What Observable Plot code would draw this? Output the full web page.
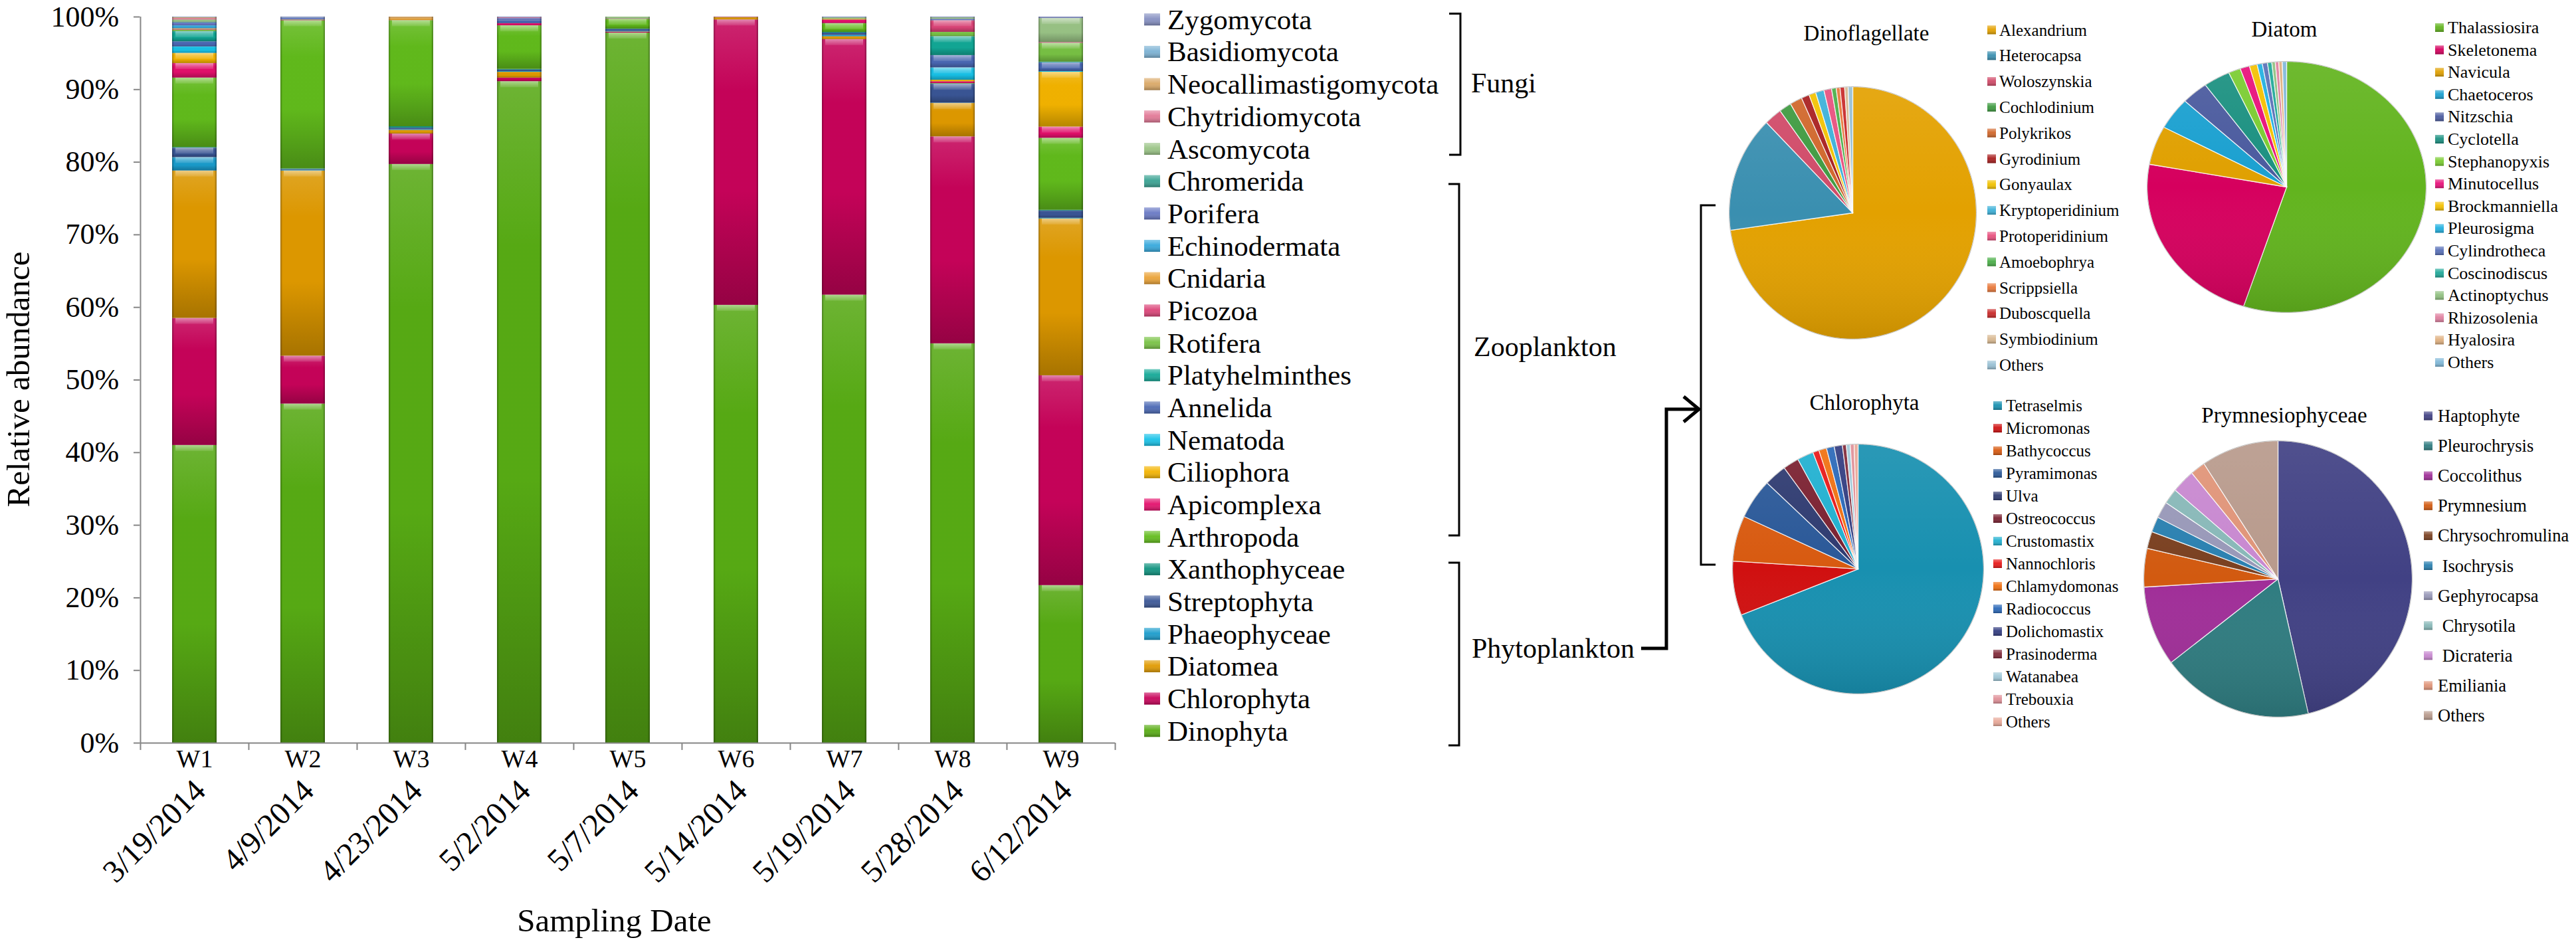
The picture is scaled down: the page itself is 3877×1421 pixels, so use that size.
<!DOCTYPE html>
<html><head><meta charset="utf-8">
<script src="https://cdn.jsdelivr.net/npm/d3@7"></script>
<script src="https://cdn.jsdelivr.net/npm/@observablehq/plot@0.6"></script>
<style>
html,body{margin:0;padding:0;background:#fff;}
#root{position:relative;width:3877px;height:1421px;overflow:hidden;background:#fff;}
#root svg{position:absolute;}
#root svg, #root svg text{font-family:'Liberation Serif','Times New Roman',Times,serif !important;}
</style></head>
<body><div id="root"></div>
<script>
// ---------------- DATA ----------------
const weeks = ["W1","W2","W3","W4","W5","W6","W7","W8","W9"];
const dates = ["3/19/2014","4/9/2014","4/23/2014","5/2/2014","5/7/2014","5/14/2014","5/19/2014","5/28/2014","6/12/2014"];
const yTicks = [0,10,20,30,40,50,60,70,80,90,100];
// stacking order, bottom to top
const taxa = ["Dinophyta","Chlorophyta","Diatomea","Phaeophyceae","Streptophyta","Xanthophyceae","Arthropoda","Apicomplexa","Ciliophora","Nematoda","Annelida","Platyhelminthes","Rotifera","Picozoa","Cnidaria","Echinodermata","Porifera","Chromerida","Ascomycota","Chytridiomycota","Neocallimastigomycota","Basidiomycota","Zygomycota"];
const taxaColors = ["#58ac14","#c8035a","#e09a00","#1a9ccc","#3a5696","#0e927e","#62bc1c","#e4106c","#f4b400","#18c2e8","#4a68b4","#12a896","#78c244","#dc4478","#eaa236","#36a8dc","#6878c4","#38a292","#9ac486","#e27896","#daa866","#7cb2d4","#8690c2"];
const w1 = [41.0,17.5,20.3,1.85,1.3,0.1,9.55,2.0,1.4,0.9,0.7,1.4,0.2,0.1,0.1,0.4,0.4,0.1,0.3,0.2,0.1,0.05,0.05];
const w2 = [46.7,6.6,25.5,0.1,0.1,0.1,20.4,0.05,0.05,0,0.1,0,0,0,0,0,0.15,0,0,0,0,0.05,0.1];
const w3 = [79.7,4.2,0.5,0.1,0.2,0.2,14.6,0,0,0,0,0,0,0,0.3,0,0,0,0,0,0.2,0,0];
const w4 = [91.1,0.5,0.8,0.1,0.2,0.1,6.0,0.3,0,0,0.4,0,0,0,0,0,0.3,0,0,0.1,0,0,0.1];
const w5 = [97.8,0.1,0.05,0.1,0.25,0.05,1.35,0.05,0,0,0,0,0,0,0,0,0,0,0.25,0,0,0,0];
const w6 = [60.3,39.3,0.3,0,0,0,0.05,0.05,0,0,0,0,0,0,0,0,0,0,0,0,0,0,0];
const w7 = [61.7,35.2,0.4,0.2,0.3,0.1,1.2,0.5,0.1,0,0,0,0,0,0,0,0,0,0.2,0,0,0,0.1];
const w8 = [55.0,28.5,4.6,0.05,2.6,0.05,0.05,0.25,0.2,1.7,1.7,2.6,0.6,1.6,0,0,0.2,0,0.2,0,0,0,0.1];
const w9 = [21.7,28.9,21.6,0.1,1.0,0.1,9.9,1.55,7.55,0.1,1.2,0.1,2.6,0.1,0,0,0,0,3.3,0,0,0,0.2];
const weekValues = [w1,w2,w3,w4,w5,w6,w7,w8,w9];

const dinoNames = ["Alexandrium","Heterocapsa","Woloszynskia","Cochlodinium","Polykrikos","Gyrodinium","Gonyaulax","Kryptoperidinium","Protoperidinium","Amoebophrya","Scrippsiella","Duboscquella","Symbiodinium","Others"];
const dinoValues = [72.8,14.9,2.3,1.6,1.6,1.05,0.9,1.1,1.0,0.6,0.5,0.6,0.45,0.6];
const dinoColors = ["#e3a100","#3a8fb0","#d04a68","#3e9a40","#d0662a","#a81e1e","#f2c200","#3cb0d8","#e8507e","#4aae48","#e8783a","#c82828","#d8b890","#98c0d4"];

const diatomNames = ["Thalassiosira","Skeletonema","Navicula","Chaetoceros","Nitzschia","Cyclotella","Stephanopyxis","Minutocellus","Brockmanniella","Pleurosigma","Cylindrotheca","Coscinodiscus","Actinoptychus","Rhizosolenia","Hyalosira","Others"];
const diatomValues = [55.0,22.9,5.0,4.1,3.1,3.1,1.4,1.1,0.9,0.6,0.6,0.5,0.4,0.4,0.4,0.5];
const diatomColors = ["#62b41e","#d6005e","#e0a000","#1aa0d0","#4a5a9e","#1a9080","#7acc30","#e8107a","#f4c000","#20b0e0","#5870b8","#20a898","#90c080","#e080a0","#e0b080","#80b8d8"];

const chloroNames = ["Tetraselmis","Micromonas","Bathycoccus","Pyramimonas","Ulva","Ostreococcus","Crustomastix","Nannochloris","Chlamydomonas","Radiococcus","Dolichomastix","Prasinoderma","Watanabea","Trebouxia","Others"];
const chloroValues = [69.0,7.0,5.9,5.2,2.9,2.05,2.1,0.8,1.0,1.0,1.05,0.5,0.5,0.5,0.5];
const chloroColors = ["#1890b0","#d01010","#d85a10","#2a5898","#2e3a70","#7a2030","#20b0d0","#e81818","#f07010","#2a68b8","#323c80","#802838","#a0c8d8","#e09098","#e8a898"];

const prymNames = ["Haptophyte","Pleurochrysis","Coccolithus","Prymnesium","Chrysochromulina"," Isochrysis","Gephyrocapsa"," Chrysotila"," Dicrateria","Emiliania","Others"];
const prymValues = [46.4,18.3,9.4,4.5,2.0,1.8,1.95,1.8,2.8,1.8,9.3];
const prymColors = ["#414184","#2f7c80","#a02e98","#d25a10","#7a4020","#2a80b0","#9898b8","#88b8b8","#c888d0","#e09478","#b89a8c"];

// ---------------- LAYOUT ----------------
const FONT = "'Liberation Serif','Times New Roman',Times,serif";
const AX = "#868686";
const root = document.getElementById("root");

const ov = d3.select(root).append("svg")
  .attr("width", 3877).attr("height", 1421)
  .style("left", "0px").style("top", "0px")
  .attr("font-family", FONT).style("font-family", FONT);
ov.append("defs").html(`
<linearGradient id="bvV" x1="0" y1="0" x2="0" y2="1">
 <stop offset="0" stop-color="#fff" stop-opacity="0.14"/>
 <stop offset="0.25" stop-color="#fff" stop-opacity="0"/>
 <stop offset="0.6" stop-color="#000" stop-opacity="0"/>
 <stop offset="1" stop-color="#000" stop-opacity="0.24"/>
</linearGradient>
<linearGradient id="bvH" x1="0" y1="0" x2="1" y2="0">
 <stop offset="0" stop-color="#000" stop-opacity="0.30"/>
 <stop offset="0.05" stop-color="#000" stop-opacity="0.02"/>
 <stop offset="0.95" stop-color="#000" stop-opacity="0.02"/>
 <stop offset="1" stop-color="#000" stop-opacity="0.34"/>
</linearGradient>
<linearGradient id="bvT" x1="0" y1="0" x2="0" y2="1">
 <stop offset="0" stop-color="#fff" stop-opacity="0.45"/>
 <stop offset="1" stop-color="#fff" stop-opacity="0.10"/>
</linearGradient>
<linearGradient id="pieShade" x1="0" y1="0" x2="0" y2="1">
 <stop offset="0" stop-color="#fff" stop-opacity="0.08"/>
 <stop offset="0.5" stop-color="#fff" stop-opacity="0"/>
 <stop offset="1" stop-color="#000" stop-opacity="0.12"/>
</linearGradient>
<linearGradient id="swV" x1="0" y1="0" x2="0" y2="1">
 <stop offset="0" stop-color="#fff" stop-opacity="0.4"/>
 <stop offset="0.45" stop-color="#fff" stop-opacity="0.05"/>
 <stop offset="1" stop-color="#000" stop-opacity="0.28"/>
</linearGradient>`);

// ---------------- BAR CHART ----------------
const rows = [];
weeks.forEach((w, wi) => {
  let acc = 0;
  weekValues[wi].forEach((v, ti) => {
    if (v > 0) rows.push({week: w, taxon: taxa[ti], value: v, y1: acc, y2: acc + v});
    acc += v;
  });
});
const W = 1700, H = 1421, ML = 210.5, MR = 22, MT = 25, MB = 303;
const step = (W - ML - MR) / weeks.length;

const bar = Plot.plot({
  width: W, height: H, marginLeft: ML, marginRight: MR, marginTop: MT, marginBottom: MB,
  style: {fontFamily: FONT, background: "transparent", overflow: "visible", color: "#000"},
  x: {domain: weeks, paddingInner: 0.59, paddingOuter: 0.295},
  y: {domain: [0, 100]},
  color: {domain: taxa, range: taxaColors},
  marks: [
    Plot.barY(rows, {x: "week", y1: "y1", y2: "y2", fill: "taxon"}),
    Plot.barY(rows, {x: "week", y1: "y1", y2: "y2", fill: "url(#bvV)"}),
    Plot.barY(rows, {x: "week", y1: "y1", y2: "y2", fill: "url(#bvH)"}),
    Plot.barY(rows.filter(d => d.value >= 1.2), {x: "week", y1: "y2", y2: "y2", insetBottom: -9, insetLeft: 5, insetRight: 5, fill: "url(#bvT)"}),
    Plot.ruleY([0], {stroke: AX, strokeWidth: 2}),
    Plot.ruleX([weeks[0]], {dx: -step / 2, y1: 0, y2: 100, stroke: AX, strokeWidth: 2}),
    Plot.ruleX(weeks, {dx: -step / 2, y1: 0, y2: -1, stroke: AX, strokeWidth: 2}),
    Plot.ruleX([weeks[weeks.length - 1]], {dx: step / 2, y1: 0, y2: -1, stroke: AX, strokeWidth: 2}),
    Plot.axisY(yTicks, {tickSize: 9.5, tickPadding: 22.4, fontSize: 44, fontFamily: FONT, tickFormat: d => d + "%", stroke: AX, strokeWidth: 2, label: null, fill: "#000"}),
    Plot.axisX(weeks, {tickSize: 0, tickPadding: 9.5, fontSize: 38, fontFamily: FONT, label: null, fill: "#000"}),
    Plot.text(weeks, {x: d => d, frameAnchor: "bottom", text: (d, i) => dates[i], rotate: -45, textAnchor: "end", lineAnchor: "middle", dx: 8, dy: 64, fontSize: 48, fontFamily: FONT, fill: "#000"})
  ]
});
bar.style.left = "0px"; bar.style.top = "0px";
bar.setAttribute("font-family", FONT);
d3.select(bar).selectAll("g, text").attr("font-family", FONT).style("font-family", FONT);
d3.select(bar).selectAll("text").attr("font-variant", "normal").style("font-variant", "normal");
root.insertBefore(bar, ov.node());

// axis titles
ov.append("text").attr("transform", "translate(27,571) rotate(-90)")
  .attr("text-anchor", "middle").attr("dominant-baseline", "central")
  .attr("font-size", 49).text("Relative abundance");
ov.append("text").attr("x", 924.5).attr("y", 1385)
  .attr("text-anchor", "middle").attr("dominant-baseline", "central")
  .attr("font-size", 49).text("Sampling Date");

// bar legend (top = last taxon)
const legendTaxa = taxa.slice().reverse();
const legendColors = taxaColors.slice().reverse();
const lg = ov.append("g");
legendTaxa.forEach((t, r) => {
  const cy = 29.3 + r * 48.68;
  lg.append("rect").attr("x", 1722).attr("y", cy - 9).attr("width", 24).attr("height", 18).attr("fill", legendColors[r]);
  lg.append("rect").attr("x", 1722).attr("y", cy - 9).attr("width", 24).attr("height", 18).attr("fill", "url(#swV)");
  lg.append("text").attr("x", 1757).attr("y", cy).attr("dominant-baseline", "central").attr("font-size", 43).text(t);
});

// group brackets and labels
const br = ov.append("g").attr("fill", "none").attr("stroke", "#000");
br.append("path").attr("d", "M2181,20.5H2198V233H2181").attr("stroke-width", 3);
br.append("path").attr("d", "M2180,277H2196V806H2180").attr("stroke-width", 3);
br.append("path").attr("d", "M2180,847H2196V1122H2180").attr("stroke-width", 3);
br.append("path").attr("d", "M2470,976H2508V616H2555").attr("stroke-width", 5).attr("stroke-linejoin", "miter");
br.append("path").attr("d", "M2534,597L2557,616L2534,635").attr("stroke-width", 5).attr("stroke-linejoin", "miter");
br.append("path").attr("d", "M2582,309H2560V850H2582").attr("stroke-width", 3);
[["Fungi", 2214, 125], ["Zooplankton", 2218, 522], ["Phytoplankton", 2215, 976]].forEach(([t, x, y]) => {
  ov.append("text").attr("x", x).attr("y", y).attr("dominant-baseline", "central").attr("font-size", 42).text(t);
});

// ---------------- PIES ----------------
function drawPie(s) {
  const items = s.names.map((n, i) => ({n, v: s.values[i], c: s.colors[i]}));
  const arcs = d3.pie().sort(null).value(d => d.v)(items);
  const pts = [];
  arcs.forEach((a, i) => {
    pts.push({k: i, x: 0, y: 0, c: a.data.c});
    const n = Math.max(2, Math.ceil((a.endAngle - a.startAngle) / (Math.PI / 360)));
    for (let j = 0; j <= n; j++) {
      const t = a.startAngle + (a.endAngle - a.startAngle) * j / n;
      pts.push({k: i, x: Math.sin(t), y: Math.cos(t), c: a.data.c});
    }
  });
  const rim = pts.filter(d => !(d.x === 0 && d.y === 0));
  const pad = 4;
  const p = Plot.plot({
    width: 2 * s.rx + 2 * pad, height: 2 * s.ry + 2 * pad, margin: pad,
    x: {domain: [-1, 1], axis: null}, y: {domain: [-1, 1], axis: null},
    color: {type: "identity"},
    style: {background: "transparent", overflow: "visible"},
    marks: [
      Plot.line(pts, {x: "x", y: "y", z: "k", fill: "c", stroke: "#ffffff", strokeWidth: 1.3, strokeOpacity: 0.8, curve: "linear-closed"}),
      Plot.line(rim, {x: "x", y: "y", fill: "url(#pieShade)", stroke: "#bdbdbd", strokeWidth: 1, curve: "linear-closed"})
    ]
  });
  p.style.left = (s.cx - s.rx - pad) + "px";
  p.style.top = (s.cy - s.ry - pad) + "px";
  root.insertBefore(p, ov.node());
  ov.append("text").attr("x", s.tx).attr("y", s.ty).attr("text-anchor", "middle")
    .attr("dominant-baseline", "central").attr("font-size", 33).text(s.title);
  const g = ov.append("g");
  s.names.forEach((n, i) => {
    const cy = s.ly + i * s.ld;
    g.append("rect").attr("x", s.sx).attr("y", cy - 6.5).attr("width", 13).attr("height", 13).attr("fill", s.colors[i]);
    g.append("rect").attr("x", s.sx).attr("y", cy - 6.5).attr("width", 13).attr("height", 13).attr("fill", "url(#swV)");
    g.append("text").attr("x", s.lx).attr("y", cy).attr("dominant-baseline", "central")
      .attr("font-size", s.fs).attr("xml:space", "preserve").style("white-space", "pre").text(n);
  });
}

drawPie({names: dinoNames, values: dinoValues, colors: dinoColors, cx: 2788, cy: 320, rx: 186, ry: 190,
  title: "Dinoflagellate", tx: 2809, ty: 50, sx: 2991, lx: 3009, ly: 45, ld: 38.8, fs: 25});
drawPie({names: diatomNames, values: diatomValues, colors: diatomColors, cx: 3441, cy: 281, rx: 210, ry: 189,
  title: "Diatom", tx: 3438, ty: 44, sx: 3665, lx: 3684, ly: 41.5, ld: 33.6, fs: 26});
drawPie({names: chloroNames, values: chloroValues, colors: chloroColors, cx: 2796, cy: 856, rx: 189, ry: 188,
  title: "Chlorophyta", tx: 2806, ty: 606, sx: 3000, lx: 3019, ly: 610.5, ld: 34.0, fs: 25});
drawPie({names: prymNames, values: prymValues, colors: prymColors, cx: 3428, cy: 871, rx: 202, ry: 208,
  title: "Prymnesiophyceae", tx: 3438, ty: 625, sx: 3648, lx: 3669, ly: 626, ld: 45.1, fs: 26.5});
</script>
</body></html>
